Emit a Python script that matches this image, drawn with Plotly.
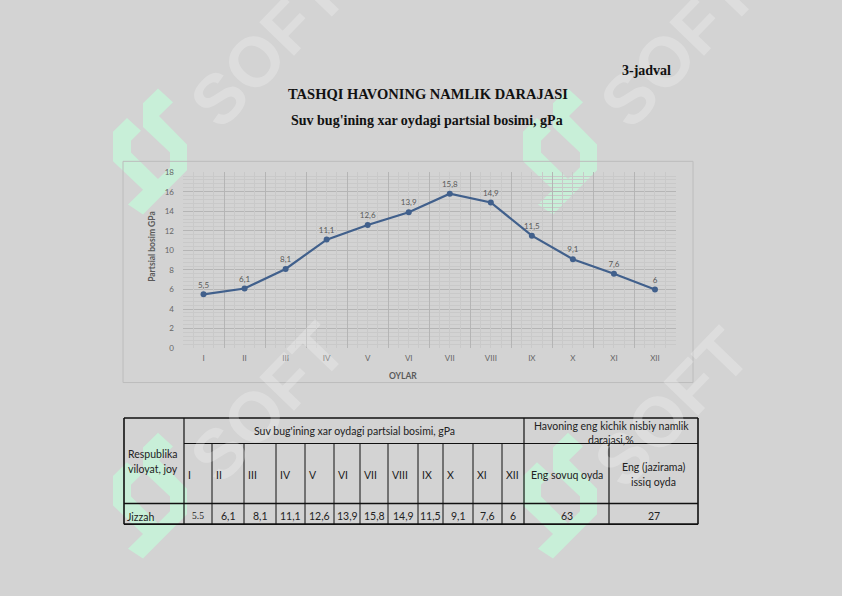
import plotly.graph_objects as go

# ---------------- data ----------------
MONTHS = ["I", "II", "III", "IV", "V", "VI", "VII", "VIII", "IX", "X", "XI", "XII"]
VALUES = [5.5, 6.1, 8.1, 11.1, 12.6, 13.9, 15.8, 14.9, 11.5, 9.1, 7.6, 6]
TABLE_VALUES = ["5.5", "6,1", "8,1", "11,1", "12,6", "13,9", "15,8", "14,9", "11,5", "9,1", "7,6", "6"]
PLACE = "Jizzah"
HUMIDITY_COLD = 63
HUMIDITY_HOT = 27

TITLE_TAG = "3-jadval"
TITLE = "TASHQI HAVONING NAMLIK DARAJASI"
SUBTITLE = "Suv bug'ining xar oydagi partsial bosimi, gPa"
Y_TITLE = "Partsial bosim GPa"
X_TITLE = "OYLAR"

W, H = 842, 596
BG = "#d3d3d3"


def px(x):
    return x / W


def py(y):
    return 1 - y / H


fig = go.Figure()

fig.add_trace(go.Scatter(
    x=MONTHS, y=VALUES,
    mode="lines+markers+text",
    text=[f"{v:g}".replace(".", ",") for v in VALUES],
    textposition="top center",
    textfont=dict(family="Lato", size=8, color="#5a5a5a"),
    line=dict(color="#41608c", width=2.2),
    marker=dict(color="#41608c", size=6),
    cliponaxis=False,
    showlegend=False,
    hoverinfo="skip",
))
# empty trace to host the faint vertical grid axis
fig.add_trace(go.Scatter(x=[], y=[], xaxis="x2", yaxis="y", showlegend=False, hoverinfo="skip"))

n = len(MONTHS)
minor_x = [i + f for i in range(n) for f in (-0.25, 0.25)] + [i for i in range(n)]

shapes = []
annotations = []

# ---------------- watermark ----------------
logo = [(158, 85), (173, 99), (159, 113), (187, 142), (187, 168), (143, 213), (128, 203),
        (143, 188), (113, 159), (113, 129), (127, 115), (141, 128), (131, 138), (131, 150),
        (158, 177), (170, 165), (170, 150), (143, 124), (143, 100)]
for dx, dy in [(0, 0), (410, 0), (0, 350), (410, 350)]:
    path = "M " + " L ".join(f"{px(x + dx):.5f},{py(y + dy):.5f}" for x, y in logo) + " Z"
    shapes.append(dict(type="path", xref="paper", yref="paper", path=path,
                       fillcolor="#c8efd8", line=dict(width=0), layer="below"))
for cx, cy in [(268, 44), (678, 44), (268, 405), (672, 410)]:
    annotations.append(dict(text="<b>SOFT</b>", x=px(cx), y=py(cy), xref="paper", yref="paper",
                            showarrow=False, textangle=-46, xanchor="center", yanchor="middle",
                            font=dict(family="Liberation Sans", size=70, color="rgba(255,255,255,0.24)")))

# ---------------- titles ----------------
annotations += [
    dict(text=f"<b>{TITLE_TAG}</b>", x=px(673), y=py(67), xanchor="right", yanchor="middle",
         font=dict(family="Liberation Serif", size=14, color="#111")),
    dict(text=f"<b>{TITLE}</b>", x=px(428), y=py(91), xanchor="center", yanchor="middle",
         font=dict(family="Liberation Serif", size=14.5, color="#111")),
    dict(text=f"<b>{SUBTITLE}</b>", x=px(427), y=py(117), xanchor="center", yanchor="middle",
         font=dict(family="Liberation Serif", size=14, color="#111")),
    dict(text=f"<b>{Y_TITLE}</b>", x=px(152), y=py(246), textangle=-90, xanchor="center", yanchor="middle",
         font=dict(family="Lato", size=8.5, color="#5a5a5a")),
    dict(text=f"<b>{X_TITLE}</b>", x=px(403), y=py(377), xanchor="center", yanchor="middle",
         font=dict(family="Lato", size=8.5, color="#5a5a5a")),
]
for a in annotations:
    a.setdefault("xref", "paper")
    a.setdefault("yref", "paper")
    a.setdefault("showarrow", False)

# chart frame
shapes.append(dict(type="rect", xref="paper", yref="paper", x0=px(123), x1=px(693), y0=py(159), y1=py(384),
                   line=dict(color="#bcbcbc", width=1), fillcolor="rgba(0,0,0,0)"))

# ---------------- table ----------------
T_L, T_R, T_TOP, T_BOT = 124, 698, 420, 528
Y_SPLIT, Y_HEAD = 446, 507
COL_A, COL_B, COL_C = 184, 524, 609
month_bounds = [184, 212, 244, 276, 305, 334, 360, 388, 418, 443, 473, 502, 524]


def line(x0, y0, x1, y1, w=1.0):
    shapes.append(dict(type="line", xref="paper", yref="paper", x0=px(x0), y0=py(y0), x1=px(x1), y1=py(y1),
                       line=dict(color="#111", width=w)))


line(T_L, T_TOP, T_R, T_TOP, 1.6)
line(T_L, T_BOT, T_R, T_BOT, 1.6)
line(T_L, T_TOP, T_L, T_BOT, 1.6)
line(T_R, T_TOP, T_R, T_BOT, 1.6)
line(COL_A, T_TOP, COL_A, T_BOT, 1.2)
line(COL_B, T_TOP, COL_B, T_BOT, 1.2)
line(COL_C, Y_SPLIT, COL_C, T_BOT, 1.2)
line(COL_A, Y_SPLIT, T_R, Y_SPLIT, 1.2)
line(T_L, Y_HEAD, T_R, Y_HEAD, 1.6)
for b in month_bounds[1:-1]:
    line(b, Y_SPLIT, b, T_BOT, 1.0)

TF = dict(family="Lato", size=10.5, color="#222")


def txt(s, x, y, xanchor="center", font=None):
    annotations.append(dict(text=s, x=px(x), y=py(y), xref="paper", yref="paper", showarrow=False,
                            xanchor=xanchor, yanchor="middle", font=font or TF))


txt(SUBTITLE, (COL_A + COL_B) / 2, 433)
txt("Havoning eng kichik nisbiy namlik", (COL_B + T_R) / 2, 428)
txt("darajasi,%", (COL_B + T_R) / 2, 442)
txt("Respublika", 126, 457, "left")
txt("viloyat, joy", 126, 472, "left")
txt("Eng sovuq oyda", (COL_B + COL_C) / 2, 478)
txt("Eng (jazirama)", (COL_C + T_R) / 2, 470)
txt("issiq oyda", (COL_C + T_R) / 2, 485)
txt(PLACE, 125, 521, "left")
for i, m in enumerate(MONTHS):
    txt(m, month_bounds[i] + 1.5, 478, "left")
    f = dict(family="Liberation Serif", size=9.5, color="#222") if i == 0 else TF
    txt(TABLE_VALUES[i], (month_bounds[i] + month_bounds[i + 1]) / 2, 520, font=f)
txt(str(HUMIDITY_COLD), (COL_B + COL_C) / 2, 520)
txt(str(HUMIDITY_HOT), (COL_C + T_R) / 2, 520)

# ---------------- layout ----------------
fig.update_layout(
    width=W, height=H,
    margin=dict(l=0, r=0, t=0, b=0),
    paper_bgcolor=BG,
    plot_bgcolor="rgba(0,0,0,0)",
    shapes=shapes,
    annotations=annotations,
    xaxis=dict(
        type="category", domain=[px(183), px(675.5)], range=[-0.5, n - 0.5],
        tickson="boundaries", showgrid=True, gridcolor="#b5b5b5", gridwidth=1,
        ticks="", showline=False, zeroline=False, ticklabelstandoff=4,
        tickfont=dict(family="Lato", size=8, color="#666"),
    ),
    xaxis2=dict(
        overlaying="x", anchor="y", domain=[px(183), px(675.5)], range=[-0.5, n - 0.5],
        tickvals=minor_x, showticklabels=False, showgrid=True, gridcolor="#c9c9c9",
        gridwidth=1, zeroline=False, ticks="", showline=False,
    ),
    yaxis=dict(
        domain=[py(349), py(170)], range=[0, 18], dtick=2,
        showgrid=True, gridcolor="#b5b5b5", gridwidth=1, zeroline=False,
        minor=dict(dtick=0.4, showgrid=True, gridcolor="#c9c9c9", gridwidth=1),
        ticks="", ticklabelstandoff=8,
        tickfont=dict(family="Lato", size=8, color="#666"),
    ),
)

fig.write_html("out.html")
